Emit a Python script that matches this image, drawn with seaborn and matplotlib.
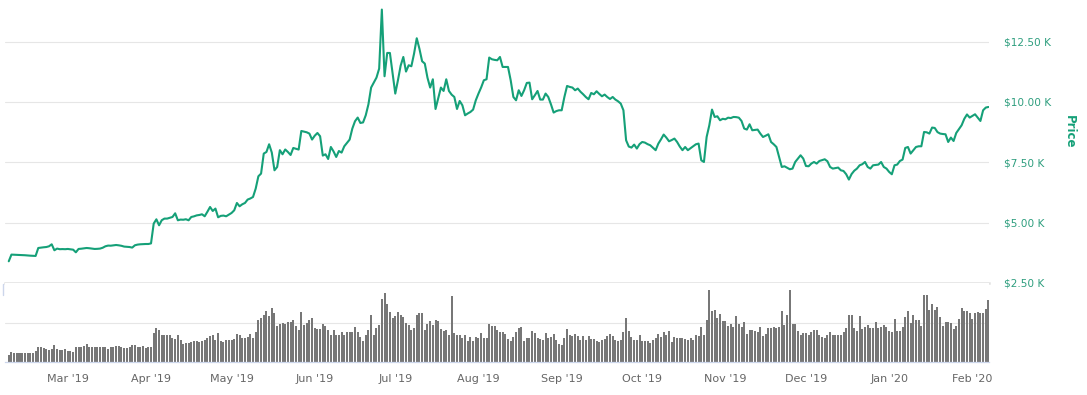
import numpy as np
import pandas as pd
import seaborn as sns
import matplotlib.pyplot as plt
from matplotlib.lines import Line2D

# daily BTC price (USD), 2019-02-07 .. 2020-02-07
price = [
    3399, 3676, 3672, 3668, 3660, 3655, 3650, 3640, 3632, 3625,
    3620, 3950, 3965, 3979, 3990, 4020, 4103, 3855, 3925, 3900,
    3905, 3900, 3910, 3895, 3880, 3771, 3910, 3920, 3935, 3950,
    3940, 3925, 3910, 3915, 3925, 3960, 4020, 4049, 4045, 4060,
    4074, 4060, 4040, 4008, 4000, 3990, 3966, 4062, 4090, 4103,
    4110, 4115, 4115, 4140, 4960, 5138, 4890, 5100, 5167, 5167,
    5200, 5234, 5387, 5097, 5126, 5120, 5140, 5097, 5234, 5260,
    5300, 5317, 5346, 5263, 5450, 5648, 5482, 5582, 5221, 5280,
    5292, 5263, 5330, 5400, 5511, 5814, 5677, 5760, 5814, 5955,
    6000, 6062, 6410, 6920, 7031, 7860, 7926, 8245, 7901, 7168,
    7305, 8000, 7831, 8030, 7926, 7802, 8092, 8060, 8026, 8796,
    8770, 8742, 8688, 8440, 8600, 8713, 8577, 7777, 7831, 7636,
    8133, 7950, 7719, 7967, 7900, 8162, 8300, 8440, 8895, 9200,
    9351, 9127, 9150, 9446, 9900, 10593, 10800, 11007, 11380, 13824,
    11062, 12027, 12027, 11200, 10345, 10900, 11500, 11861, 11256, 11517,
    11476, 12000, 12636, 12200, 11683, 11587, 11000, 10594, 10937, 9707,
    10150, 10594, 10453, 10937, 10453, 10300, 10204, 9707, 10038, 9860,
    9446, 9520, 9583, 9682, 10067, 10345, 10600, 10896, 10937, 11836,
    11766, 11740, 11724, 11861, 11447, 11447, 11447, 10896, 10204, 10067,
    10482, 10246, 10482, 10784, 10800, 10109, 10275, 10453, 10096, 10096,
    10345, 10204, 9900, 9558, 9620, 9653, 9653, 10200, 10660, 10620,
    10594, 10482, 10552, 10420, 10316, 10200, 10109, 10370, 10316, 10440,
    10330, 10233, 10303, 10200, 10121, 10204, 10096, 10026, 9931, 9653,
    8410, 8150, 8108, 8232, 8067, 8250, 8340, 8315, 8250, 8203,
    8100, 8000, 8270, 8450, 8647, 8520, 8369, 8420, 8481, 8340,
    8150, 8000, 8133, 8000, 8080, 8160, 8245, 8274, 7582, 7512,
    8547, 9032, 9682, 9376, 9405, 9239, 9300, 9280, 9347, 9330,
    9376, 9370, 9347, 9210, 8895, 8854, 9073, 8825, 8840, 8854,
    8688, 8547, 8600, 8659, 8340, 8245, 8133, 7719, 7305, 7334,
    7270, 7210, 7238, 7512, 7653, 7790, 7653, 7346, 7334, 7445,
    7512, 7445, 7553, 7590, 7624, 7541, 7305, 7238, 7260, 7280,
    7168, 7139, 7003, 6783, 7011, 7150, 7238, 7375, 7420, 7512,
    7305, 7238, 7375, 7390, 7404, 7512, 7305, 7238, 7100, 7003,
    7375, 7404, 7553, 7611, 8092, 8133, 7860, 8000, 8133, 8162,
    8162, 8754, 8740, 8688, 8937, 8920, 8750, 8688, 8670, 8659,
    8340, 8522, 8381, 8713, 8870, 9032, 9300, 9480, 9351, 9420,
    9488, 9350, 9210, 9653, 9765, 9790,
]

# daily volume (billion USD), same days
volume = [
    4.6, 6.3, 5.9, 5.7, 5.9, 5.9, 5.9, 5.9, 5.9, 5.7,
    6.8, 9.8, 9.8, 8.9, 8.1, 7.6, 8.1, 10.5, 8.5, 7.6,
    7.6, 8.3, 7.2, 7.2, 6.5, 9.8, 9.4, 9.8, 10.2, 11.3,
    9.8, 9.8, 9.8, 9.4, 9.2, 9.4, 9.8, 8.5, 9.4, 9.4,
    10.0, 10.2, 9.2, 8.9, 8.9, 9.4, 10.5, 10.5, 9.4, 9.8,
    10.2, 8.9, 9.8, 9.2, 18.3, 21.6, 20.3, 16.8, 16.8, 16.8,
    16.8, 15.0, 14.4, 17.2, 13.7, 11.3, 12.0, 12.0, 12.4, 13.1,
    13.5, 12.9, 13.3, 14.2, 15.3, 16.3, 17.2, 13.7, 18.3, 13.3,
    12.9, 13.7, 13.7, 13.7, 14.6, 17.9, 17.2, 15.5, 15.0, 15.9,
    17.7, 15.0, 19.0, 26.4, 28.1, 29.9, 32.0, 29.0, 34.2, 31.2,
    22.7, 24.0, 24.9, 24.2, 25.5, 25.1, 26.4, 22.9, 20.3, 31.6,
    23.3, 24.6, 26.6, 27.7, 21.6, 21.1, 21.1, 24.2, 22.9, 20.1,
    16.8, 20.1, 16.8, 16.8, 18.9, 16.8, 18.9, 18.7, 19.2, 22.0,
    19.2, 16.1, 13.0, 17.2, 20.3, 29.7, 17.2, 21.6, 23.3, 40.0,
    43.8, 36.8, 31.6, 27.7, 29.0, 31.4, 29.6, 28.3, 25.0, 23.3,
    20.1, 21.8, 29.9, 30.7, 30.7, 20.1, 23.8, 26.2, 23.3, 26.4,
    25.9, 21.1, 19.8, 20.1, 17.4, 42.0, 18.1, 17.2, 16.8, 15.5,
    16.8, 13.1, 16.1, 13.5, 16.1, 15.0, 18.3, 15.5, 15.0, 23.8,
    22.9, 22.9, 20.1, 18.9, 18.9, 17.9, 14.6, 13.5, 15.7, 18.9,
    21.6, 22.3, 13.5, 15.0, 15.0, 19.4, 18.3, 15.2, 14.5, 13.7,
    18.5, 15.2, 15.9, 17.9, 13.7, 11.5, 11.0, 15.2, 21.0, 17.0,
    16.3, 17.9, 16.6, 13.9, 16.6, 13.9, 16.6, 14.8, 14.6, 13.2,
    12.8, 13.7, 14.8, 16.6, 17.9, 16.3, 13.9, 13.2, 13.7, 19.2,
    27.8, 19.9, 16.1, 14.1, 13.9, 17.0, 13.2, 13.2, 13.2, 12.1,
    13.7, 15.5, 17.9, 15.9, 19.2, 17.4, 19.9, 12.8, 16.1, 15.2,
    15.5, 15.2, 14.8, 13.7, 15.2, 13.9, 17.0, 16.6, 21.9, 17.0,
    26.5, 45.7, 32.5, 33.1, 28.0, 30.2, 25.8, 25.8, 22.5, 24.1,
    21.9, 29.1, 24.1, 21.9, 25.2, 17.9, 20.5, 20.5, 19.7, 19.2,
    21.9, 16.6, 17.9, 21.4, 21.4, 21.9, 21.4, 21.9, 32.5, 23.3,
    29.8, 45.7, 23.8, 24.1, 19.9, 17.4, 18.5, 18.1, 17.0, 18.8,
    20.1, 20.3, 17.0, 15.9, 15.2, 17.0, 18.8, 17.4, 17.4, 17.0,
    17.4, 18.8, 21.4, 29.8, 29.8, 21.4, 19.7, 29.1, 20.8, 21.9,
    23.6, 21.4, 21.4, 25.2, 21.4, 21.9, 23.6, 21.9, 19.7, 19.2,
    26.9, 19.7, 19.7, 21.9, 28.5, 32.5, 24.7, 29.6, 26.3, 26.3,
    22.5, 42.4, 42.4, 33.1, 36.4, 32.9, 35.1, 28.5, 22.5, 25.2,
    25.2, 24.7, 21.0, 23.0, 27.4, 34.4, 32.5, 32.5, 31.1, 27.2,
    31.1, 31.6, 30.7, 30.7, 33.6, 39.1,
]

price_ticks = [2500, 5000, 7500, 10000, 12500]
price_labels = ["$2.50 K", "$5.00 K", "$7.50 K", "$10.00 K", "$12.50 K"]

dates = pd.date_range("2019-02-07", periods=len(price), freq="D")
days = np.arange(len(price))
month_starts = [i for i, d in enumerate(dates) if d.day == 1]
month_labels = [dates[i].strftime("%b '%y") for i in month_starts]

green = "#15a078"
label_green = "#2e9e7e"
grid_c = "#e6e6e6"
axis_blue = "#ccd6eb"

sns.set_style("white")
plt.rcParams['font.family'] = ['DejaVu Sans']

W, H = 1087, 395
fig = plt.figure(figsize=(W / 100, H / 100), dpi=100)
ax_p = fig.add_axes([5 / W, 1 - 283 / H, 984 / W, 283 / H])
ax_v = fig.add_axes([5 / W, 1 - 362 / H, 984 / W, 79 / H])

# price panel
sns.lineplot(x=days, y=price, ax=ax_p, color=green, linewidth=1.5)
ax_p.set_xlim(-1.4, 365.2)
ax_p.set_ylim(2500, 14220)
ax_p.set_yticks(price_ticks)
ax_p.set_yticklabels(price_labels)
ax_p.yaxis.tick_right()
ax_p.tick_params(axis='y', length=0, pad=11, labelcolor=label_green, labelsize=7.6)
ax_p.set_xticks([])
ax_p.set_xlabel("")
ax_p.set_ylabel("")
ax_p.yaxis.grid(True, color=grid_c, linewidth=0.8)
for s in ['top', 'left', 'right']:
    ax_p.spines[s].set_visible(False)
ax_p.spines['bottom'].set_color("#e2e2e2")
ax_p.spines['bottom'].set_linewidth(1.8)

# volume panel
sns.barplot(x=days, y=volume, ax=ax_v, color="#777777", width=0.75,
            native_scale=True, saturation=1, errorbar=None, linewidth=0)
ax_v.set_xlim(-1.4, 365.2)
ax_v.set_ylim(0, 50)
ax_v.set_yticks([25])
ax_v.set_yticklabels([])
ax_v.tick_params(axis='y', length=0)
ax_v.yaxis.grid(True, color=grid_c, linewidth=0.8)
ax_v.set_axisbelow(True)
ax_v.set_xticks(month_starts)
ax_v.set_xticklabels(month_labels)
ax_v.tick_params(axis='x', length=5.5, width=0.8, color=axis_blue,
                 labelcolor="#666666", labelsize=8, pad=3)
ax_v.set_xlabel("")
ax_v.set_ylabel("")
for s in ['top', 'left', 'right']:
    ax_v.spines[s].set_visible(False)
ax_v.spines['bottom'].set_color(axis_blue)
ax_v.spines['bottom'].set_linewidth(0.9)

# small marker at the left edge of the volume panel
fig.add_artist(Line2D([3 / W, 3 / W], [1 - 284 / H, 1 - 295 / H],
                      color=axis_blue, linewidth=1))

fig.text(1069 / W, 1 - 132 / H, "Price", rotation=270, color=green,
         fontweight='bold', fontsize=8.5, ha='center', va='center')

fig.savefig("out.png", dpi=100)
